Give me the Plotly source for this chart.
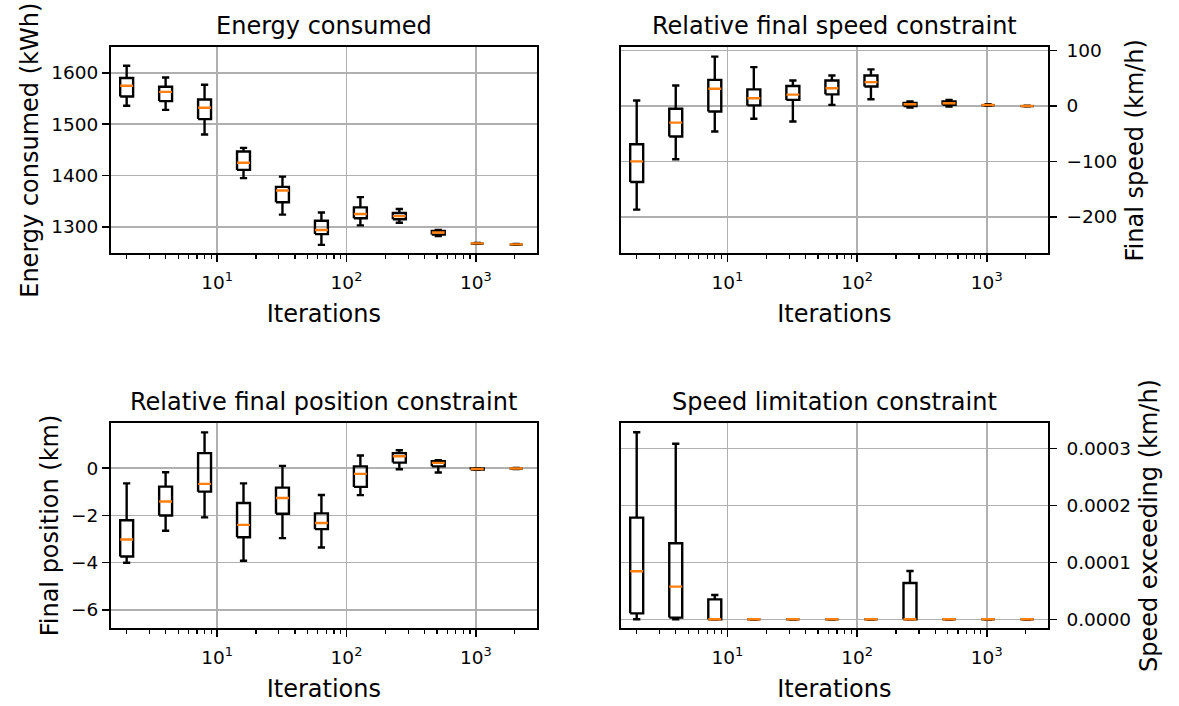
import plotly.graph_objects as go

# ---------------- data ----------------
iterations = [2, 4, 8, 16, 32, 64, 128, 256, 512, 1024, 2048]

energy_whislo = [1536, 1528, 1480, 1395, 1324, 1265, 1303, 1308, 1282, 1267, 1265]
energy_q1 = [1554, 1545, 1510, 1411, 1348, 1286, 1317, 1315, 1285, 1267.5, 1265.5]
energy_med = [1575, 1563, 1532, 1425, 1371, 1294, 1325, 1321, 1289, 1268, 1266]
energy_q3 = [1590, 1573, 1548, 1447, 1378, 1312, 1338, 1327, 1292, 1268.5, 1266.5]
energy_whishi = [1614, 1591, 1577, 1454, 1398, 1328, 1358, 1335, 1294, 1269, 1267]

speed_whislo = [-187, -96, -46, -23, -28, 2, 12, -3, -1, 0.5, -0.5]
speed_q1 = [-137, -55, -10, 1, 11, 21, 35, 0, 2, 1.2, -0.2]
speed_med = [-100, -30, 31, 14, 20.5, 32, 43, 3, 4.8, 1.8, 0]
speed_q3 = [-69, -5, 47, 30, 36, 46, 55, 5.5, 8, 2.4, 0.2]
speed_whishi = [10, 37, 89, 70, 46, 55, 66, 8, 11, 3, 0.5]

pos_whislo = [-4.0, -2.65, -2.08, -3.92, -2.96, -3.36, -1.14, -0.04, -0.18, -0.07, -0.03]
pos_q1 = [-3.74, -2.0, -0.99, -2.92, -1.93, -2.58, -0.79, 0.24, 0.08, -0.05, -0.02]
pos_med = [-3.02, -1.41, -0.66, -2.4, -1.26, -2.32, -0.24, 0.51, 0.23, -0.03, -0.01]
pos_q3 = [-2.2, -0.78, 0.64, -1.47, -0.82, -1.91, 0.08, 0.64, 0.30, -0.01, 0.0]
pos_whishi = [-0.64, -0.17, 1.52, -0.64, 0.1, -1.13, 0.54, 0.76, 0.34, 0.0, 0.01]

lim_whislo = [0, 0, 0, 0, 0, 0, 0, 0, 0, 0, 0]
lim_q1 = [1.05e-5, 0.3e-5, 0, 0, 0, 0, 0, 0, 0, 0, 0]
lim_med = [8.44e-5, 5.74e-5, 0, 0, 0, 0, 0, 0, 0, 0, 0]
lim_q3 = [17.87e-5, 13.36e-5, 3.51e-5, 0, 0, 0, 0, 6.39e-5, 0, 0, 0]
lim_whishi = [32.87e-5, 30.87e-5, 4.28e-5, 0, 0, 0, 0, 8.5e-5, 0, 0, 0]

titles = ["Energy consumed", "Relative final speed constraint",
          "Relative final position constraint", "Speed limitation constraint"]
ylabels = ["Energy consumed (kWh)", "Final speed (km/h)",
           "Final position (km)", "Speed exceeding (km/h)"]
xlabel = "Iterations"
xtick_vals = [10, 100, 1000]
xtick_text = ["10<sup>1</sup>", "10<sup>2</sup>", "10<sup>3</sup>"]

# ---------------- styling ----------------
W, H = 1179, 706
FONT = "DejaVu Sans"
TICK_SIZE = 18.5
LABEL_SIZE = 24
TITLE_SIZE = 24
GRID = "#b0b0b0"
ORANGE = "#ff7f0e"
LW = 2.4
BOX_HW = 0.05   # half box width, in decades
CAP_HW = 0.028  # half cap width, in decades

# axes pixel boxes in the window (left, right, top, bottom)
boxes_px = [
    (111, 536.7, 47.2, 253.3),
    (621, 1047.7, 47.2, 253.3),
    (111, 536.7, 422.7, 628.3),
    (621, 1047.7, 422.7, 628.3),
]
yranges = [[1248.6, 1650], [-265.7, 106], [-6.78, 1.93], [-0.158e-4, 3.456e-4]]
ytickvals = [[1300, 1400, 1500, 1600], [-200, -100, 0, 100], [-6, -4, -2, 0],
             [0, 1e-4, 2e-4, 3e-4]]
xrange_log = [0.18, 3.47]

panels = [
    (energy_whislo, energy_q1, energy_med, energy_q3, energy_whishi),
    (speed_whislo, speed_q1, speed_med, speed_q3, speed_whishi),
    (pos_whislo, pos_q1, pos_med, pos_q3, pos_whishi),
    (lim_whislo, lim_q1, lim_med, lim_q3, lim_whishi),
]

minor_vals = []
for dec in [1, 10, 100, 1000]:
    for m in range(2, 10):
        minor_vals.append(dec * m)

fig = go.Figure()

for k, (lo, q1, med, q3, hi) in enumerate(panels):
    xa = "x" if k == 0 else f"x{k+1}"
    ya = "y" if k == 0 else f"y{k+1}"
    bx, by, wx, wy, cx, cy, mx, my = [], [], [], [], [], [], [], []
    for i, it in enumerate(iterations):
        xl = it * 10 ** (-BOX_HW)
        xr = it * 10 ** (BOX_HW)
        cl = it * 10 ** (-CAP_HW)
        cr = it * 10 ** (CAP_HW)
        bx += [xl, xr, xr, xl, xl, None]
        by += [q1[i], q1[i], q3[i], q3[i], q1[i], None]
        wx += [it, it, None, it, it, None]
        wy += [lo[i], q1[i], None, q3[i], hi[i], None]
        cx += [cl, cr, None, cl, cr, None]
        cy += [lo[i], lo[i], None, hi[i], hi[i], None]
        mx += [xl, xr, None]
        my += [med[i], med[i], None]
    common = dict(xaxis=xa, yaxis=ya, mode="lines", hoverinfo="skip", showlegend=False)
    fig.add_trace(go.Scatter(x=wx, y=wy, line=dict(color="black", width=LW), **common))
    fig.add_trace(go.Scatter(x=cx, y=cy, line=dict(color="black", width=LW), **common))
    fig.add_trace(go.Scatter(x=bx, y=by, line=dict(color="black", width=LW), **common))
    fig.add_trace(go.Scatter(x=mx, y=my, line=dict(color=ORANGE, width=LW), **common))

layout = dict(
    width=W, height=H,
    margin=dict(l=0, r=0, t=0, b=0),
    paper_bgcolor="white", plot_bgcolor="white",
    font=dict(family=FONT, size=TICK_SIZE, color="black"),
    showlegend=False,
    annotations=[],
)

for k in range(4):
    L, R, T, B = boxes_px[k]
    xdom = [L / W, R / W]
    ydom = [1 - B / H, 1 - T / H]
    xkey = "xaxis" if k == 0 else f"xaxis{k+1}"
    ykey = "yaxis" if k == 0 else f"yaxis{k+1}"
    xa = "x" if k == 0 else f"x{k+1}"
    ya = "y" if k == 0 else f"y{k+1}"
    right = k in (1, 3)
    layout[xkey] = dict(
        domain=xdom, anchor=ya, type="log", range=xrange_log,
        tickmode="array", tickvals=xtick_vals, ticktext=xtick_text,
        ticks="outside", ticklen=7, tickwidth=1.6, tickcolor="black",
        ticklabelstandoff=4,
        showgrid=True, gridcolor=GRID, gridwidth=1.6,
        showline=True, linecolor="black", linewidth=2, mirror=True,
        zeroline=False, automargin=False,
        tickfont=dict(size=TICK_SIZE),
        minor=dict(tickmode="array", tickvals=minor_vals, ticks="outside",
                   ticklen=4, tickwidth=1.2, tickcolor="black", showgrid=False),
        title=dict(text=xlabel, font=dict(size=LABEL_SIZE), standoff=14),
    )
    ydict = dict(
        domain=ydom, anchor=xa, range=yranges[k],
        tickmode="array", tickvals=ytickvals[k],
        ticks="outside", ticklen=7, tickwidth=1.6, tickcolor="black",
        showgrid=True, gridcolor=GRID, gridwidth=1.6,
        showline=True, linecolor="black", linewidth=2, mirror=True,
        zeroline=False, automargin=False,
        tickfont=dict(size=TICK_SIZE),
        title=dict(text=ylabels[k], font=dict(size=LABEL_SIZE), standoff=6),
    )
    if right:
        ydict["side"] = "right"
        ydict["ticklabelstandoff"] = 6
        ydict["title"]["standoff"] = 10
    if k == 3:
        ydict["tickformat"] = ".4f"
    layout[ykey] = ydict
    layout["annotations"].append(dict(
        text=titles[k], x=(xdom[0] + xdom[1]) / 2, y=ydom[1],
        xref="paper", yref="paper", xanchor="center", yanchor="bottom",
        yshift=5, showarrow=False, font=dict(size=TITLE_SIZE),
    ))

fig.update_layout(**layout)
# remove the page's default body margin so the figure fills the window exactly
fig.write_html("out.html",
               config={"displayModeBar": False, "staticPlot": True},
               post_script="document.body.style.margin='0px';"
                           "document.body.style.overflow='hidden';")
